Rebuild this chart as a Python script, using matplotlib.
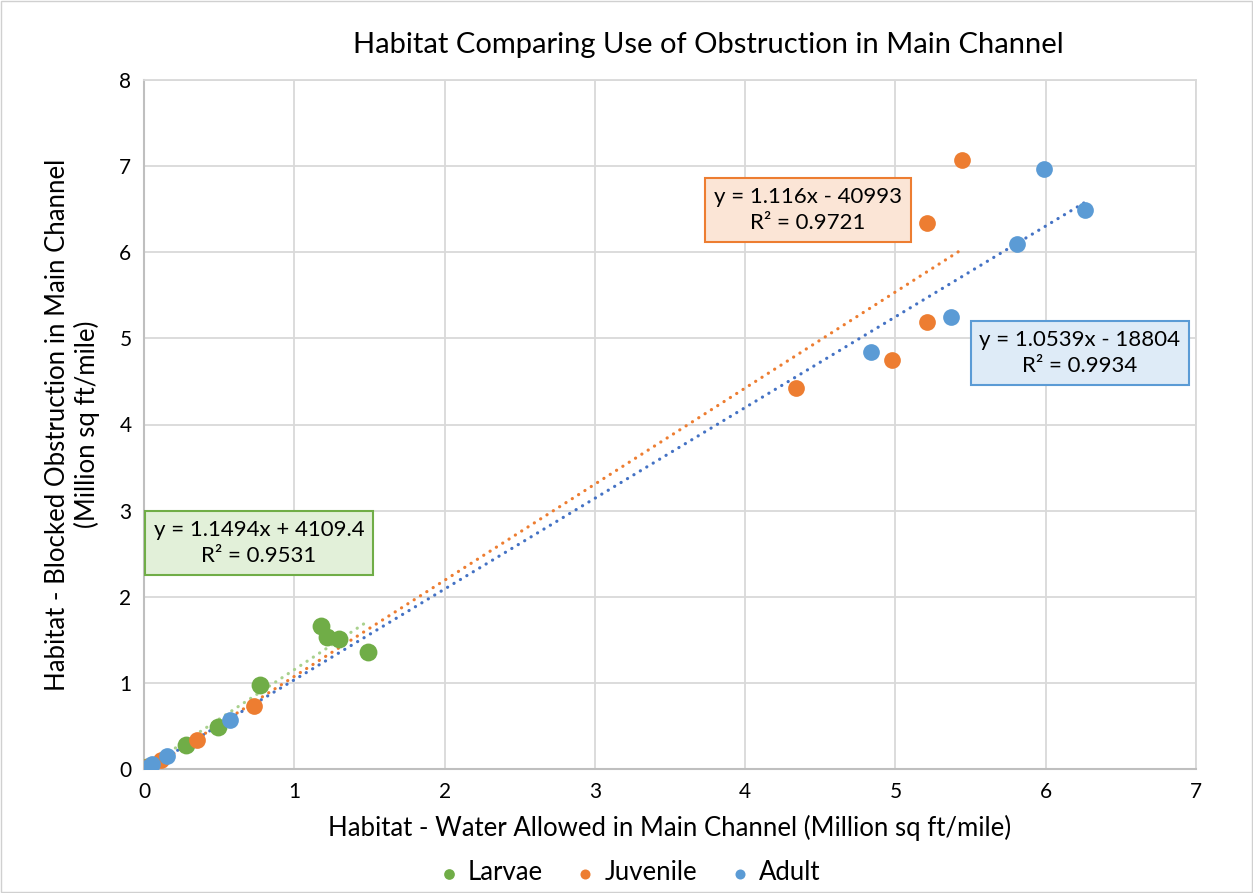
import matplotlib.pyplot as plt
import numpy as np
from matplotlib.patches import Rectangle

plt.rcParams['font.family'] = ['Lato', 'DejaVu Sans']

# values in million sq ft/mile
larvae_x = [0.0, 0.02, 0.28, 0.49, 0.77, 1.18, 1.22, 1.30, 1.49]
larvae_y = [0.0, 0.02, 0.28, 0.49, 0.98, 1.66, 1.53, 1.51, 1.36]
juv_x = [0.03, 0.11, 0.35, 0.73, 4.34, 4.98, 5.21, 5.21, 5.44]
juv_y = [0.03, 0.10, 0.34, 0.73, 4.42, 4.75, 5.19, 6.34, 7.07]
adult_x = [0.01, 0.05, 0.15, 0.57, 4.84, 5.37, 5.81, 5.99, 6.26]
adult_y = [0.01, 0.06, 0.15, 0.57, 4.84, 5.25, 6.09, 6.97, 6.49]

# trendline coefficients (raw sq ft)
larvae_fit = (1.1494, 4109.4, 0.9531)
juv_fit = (1.116, -40993, 0.9721)
adult_fit = (1.0539, -18804, 0.9934)

green, orange, blue = '#70AD47', '#ED7D31', '#5B9BD5'

fig = plt.figure(figsize=(12.53, 8.93), dpi=100)
ax = fig.add_axes([144/1253, 1 - 769/893, (1196-144)/1253, (769-80)/893])

fig.patches.append(Rectangle((0.001, 0.001), 0.998, 0.998, transform=fig.transFigure,
                             fill=False, edgecolor='#D0D0D0', lw=1))


def trend(xs, fit, color):
    m, b, _ = fit
    xx = np.array([min(xs), max(xs)])
    ax.plot(xx, m * xx + b / 1e6, linestyle=(0, (0.05, 2.3)), dash_capstyle='round',
            color=color, lw=2.3, zorder=2)


ax.scatter(larvae_x, larvae_y, s=165, color=green, zorder=3, label='Larvae', linewidths=0)
ax.scatter(juv_x, juv_y, s=145, color=orange, zorder=3, label='Juvenile', linewidths=0)
ax.scatter(adult_x, adult_y, s=145, color=blue, zorder=3, label='Adult', linewidths=0)
trend(larvae_x, larvae_fit, '#A9D18E')
trend(juv_x, juv_fit, orange)
trend(adult_x, adult_fit, '#4472C4')

ax.set_xlim(0, 7)
ax.set_ylim(0, 8)
ax.set_xticks(range(8))
ax.set_yticks(range(9))
ax.grid(True, color='#D9D9D9', lw=1.3)
ax.set_axisbelow(True)
ax.tick_params(length=0, labelsize=15, pad=9)
for s in ['top', 'right']:
    ax.spines[s].set_color('#D9D9D9')
    ax.spines[s].set_linewidth(1.3)
for s in ['bottom', 'left']:
    ax.spines[s].set_color('#BFBFBF')
    ax.spines[s].set_linewidth(1.5)


def eq_box(x, y, fit, fc, ec):
    m, b, r2 = fit
    sign = '+' if b >= 0 else '-'
    txt = f"y = {m:g}x {sign} {abs(b):g}\nR² = {r2:.4f}"
    ax.text(x, y, txt, fontsize=16, ha='center', va='center', linespacing=1.4,
            transform=ax.transData, zorder=5,
            bbox=dict(boxstyle='square,pad=0.4', fc=fc, ec=ec, lw=1.5))


eq_box((808-144)/150.3, (769-210)/86.1, juv_fit, '#FBE5D6', orange)
eq_box((1080-144)/150.3, (769-353)/86.1, adult_fit, '#DEEBF7', blue)
eq_box((259-144)/150.3, (769-543)/86.1, larvae_fit, '#E2F0D9', green)

fig.text(708/1253, 1 - 45/893, 'Habitat Comparing Use of Obstruction in Main Channel',
         ha='center', va='center', fontsize=21)
ax.set_xlabel('Habitat - Water Allowed in Main Channel (Million sq ft/mile)', fontsize=18.5, labelpad=10)
ax.set_ylabel('Habitat - Blocked Obstruction in Main Channel\n(Million sq ft/mile)', fontsize=18.5,
              labelpad=14, linespacing=1.2)

ax.legend(loc='center', bbox_to_anchor=(630/1253, 1 - 873/893), bbox_transform=fig.transFigure,
          ncol=3, frameon=False, fontsize=18.5, handlelength=0.7, handletextpad=0.4,
          columnspacing=1.3, markerscale=0.6, borderpad=0)

fig.savefig('out.png', dpi=100)
